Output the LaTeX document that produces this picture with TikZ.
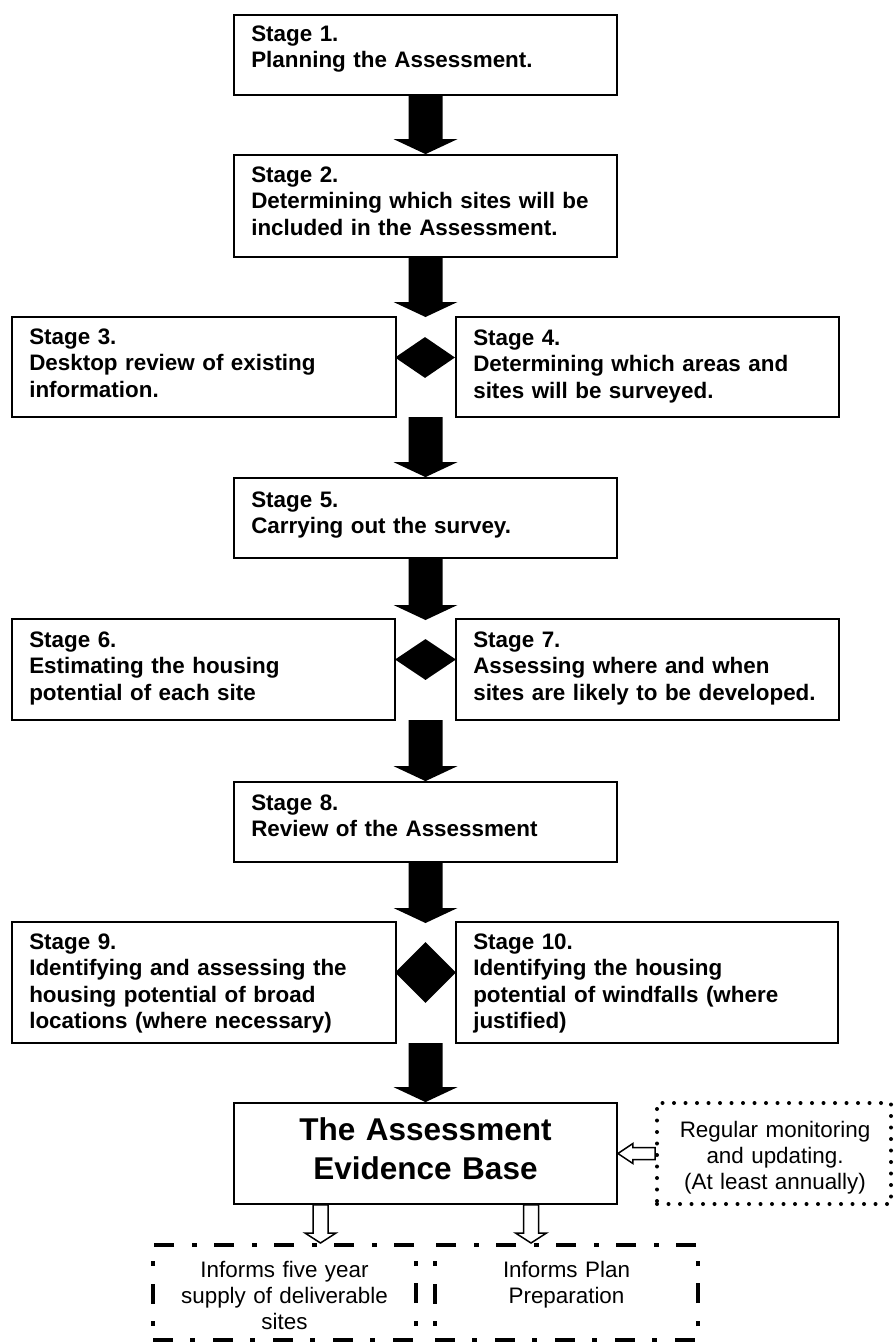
\documentclass[tikz,border=0pt]{standalone}
\usepackage{fontspec}
\setmainfont{Liberation Sans}
\usetikzlibrary{calc,shapes.geometric}
\newcommand\blackarrow[2]{\fill let \p1=(#1), \p2=(#2) in (\x2-17pt,\y1) -- (\x2+17pt,\y1) -- (\x2+17pt,\y2+15pt) -- (\x2+32pt,\y2+15pt) -- (\x2,\y2) -- (\x2-32pt,\y2+15pt) -- (\x2-17pt,\y2+15pt) -- cycle;}
\newcommand\hollowdown[3]{\draw[hollowarrow] let \p1=(#1), \p2=(#2) in (#3-7.5pt,\y1) -- (#3+7.5pt,\y1) -- (#3+7.5pt,\y2+10pt) -- (#3+15.5pt,\y2+10pt) -- (#3,\y2) -- (#3-15.5pt,\y2+10pt) -- (#3-7.5pt,\y2+10pt) -- cycle;}
\begin{document}
\begin{tikzpicture}[x=1pt,y=-1pt,
  stagebox/.style={draw, line width=1.8pt, rectangle, inner sep=0pt, minimum width=383pt},
  stxt/.style={anchor=base west, inner sep=0pt, text width=370pt, align=left, font=\fontsize{22.4}{26.5}\selectfont\bfseries},
  ctxt/.style={anchor=base, inner sep=0pt, text width=260pt, align=center, font=\fontsize{22.4}{26}\selectfont},
  dm/.style={diamond, fill=black, inner sep=0pt, minimum width=60pt},
  hollowarrow/.style={draw=black, fill=white, line width=1.5pt, line join=miter},
  dashdot/.style={draw, line width=4pt, dash pattern=on 20pt off 17pt on 5pt off 18pt, rectangle, inner sep=0pt, minimum width=263pt, minimum height=95pt},
  dotbox/.style={draw, line width=4pt, line cap=round, dash pattern=on 0pt off 11.5pt, rectangle, inner sep=0pt}
]
\useasboundingbox (0,0) rectangle (894,1344);
\fill[white] (0,0) rectangle (894,1344);

% stage boxes
\node[stagebox, minimum height=80pt] (s1) at (425.5,55) {};
\node[stagebox, minimum height=102pt] (s2) at (425.5,206) {};
\node[stagebox, minimum width=384pt, minimum height=100pt] (s3) at (204,367) {};
\node[stagebox, minimum height=100pt] (s4) at (647.5,367) {};
\node[stagebox, minimum height=80pt] (s5) at (425.5,518) {};
\node[stagebox, minimum height=101pt] (s6) at (203.5,669.5) {};
\node[stagebox, minimum height=101pt] (s7) at (647.5,669.5) {};
\node[stagebox, minimum height=80pt] (s8) at (425.5,822) {};
\node[stagebox, minimum width=384pt, minimum height=121pt] (s9) at (204,982.5) {};
\node[stagebox, minimum width=382pt, minimum height=121pt] (s10) at (647,982.5) {};
\node[stagebox, minimum height=101pt] (ev) at (425.5,1153.5) {};
\node[dotbox, minimum width=234pt, minimum height=101pt] (mon) at (774,1153.5) {};
\node[dashdot] (inf1) at (284.5,1292.5) {};
\node[dashdot] (inf2) at (566.5,1292.5) {};

% texts
\node[stxt] (t1) at ($(s1.north west)+(18,27)$) {Stage 1.\\Planning the Assessment.};
\node[stxt] (t2) at ($(s2.north west)+(18,28)$) {Stage 2.\\Determining which sites will be\\included in the Assessment.};
\node[stxt] (t3) at ($(s3.north west)+(18,28)$) {Stage 3.\\Desktop review of existing\\information.};
\node[stxt] (t4) at ($(s4.north west)+(18,29)$) {Stage 4.\\Determining which areas and\\sites will be surveyed.};
\node[stxt] (t5) at ($(s5.north west)+(18,30)$) {Stage 5.\\Carrying out the survey.};
\node[stxt] (t6) at ($(s6.north west)+(18,29)$) {Stage 6.\\Estimating the housing\\potential of each site};
\node[stxt] (t7) at ($(s7.north west)+(18,29)$) {Stage 7.\\Assessing where and when\\sites are likely to be developed.};
\node[stxt] (t8) at ($(s8.north west)+(18,29)$) {Stage 8.\\Review of the Assessment};
\node[stxt] (t9) at ($(s9.north west)+(18,28)$) {Stage 9.\\Identifying and assessing the\\housing potential of broad\\locations (where necessary)};
\node[stxt] (t10) at ($(s10.north west)+(18,28)$) {Stage 10.\\Identifying the housing\\potential of windfalls (where\\justified)};
\node[anchor=base, inner sep=0pt, text width=380pt, align=center, font=\fontsize{31.5}{39}\selectfont\bfseries] (evt) at (425.5,1140) {The Assessment\\Evidence Base};
\node[ctxt] (mont) at (775,1137) {Regular monitoring\\and updating.\\(At least annually)};
\node[ctxt] (inf1t) at (284.5,1277) {Informs five year\\supply of deliverable\\sites};
\node[ctxt] (inf2t) at (566.5,1277) {Informs Plan\\Preparation};

% diamonds
\node[dm, minimum height=41pt] (d1) at (425,357.5) {};
\node[dm, minimum width=61pt, minimum height=41pt] (d2) at (425.5,659.5) {};
\node[dm, minimum width=61pt, minimum height=61pt] (d3) at (425.5,972.5) {};

% junction coordinates
\coordinate (r1top) at (425.5,317);
\coordinate (r1bot) at (425.5,417);
\coordinate (r2top) at (425.5,620);
\coordinate (r2bot) at (425.5,720);
\coordinate (r3top) at (425.5,923);
\coordinate (r3bot) at (425.5,1043);

% black arrows
\blackarrow{s1.south}{s2.north}
\blackarrow{s2.south}{r1top}
\blackarrow{r1bot}{s5.north}
\blackarrow{s5.south}{r2top}
\blackarrow{r2bot}{s8.north}
\blackarrow{s8.south}{r3top}
\blackarrow{r3bot}{ev.north}

% hollow arrows
\hollowdown{ev.south}{inf1.north}{320.5pt}
\hollowdown{ev.south}{inf2.north}{531pt}
\draw[hollowarrow] let \p1=(mon.west), \p2=(ev.east) in (\x1,\y1+6pt) -- (\x2+15pt,\y1+6pt) -- (\x2+15pt,\y1+10pt) -- (\x2,\y1) -- (\x2+15pt,\y1-10pt) -- (\x2+15pt,\y1-6pt) -- (\x1,\y1-6pt) -- cycle;
\end{tikzpicture}
\end{document}
